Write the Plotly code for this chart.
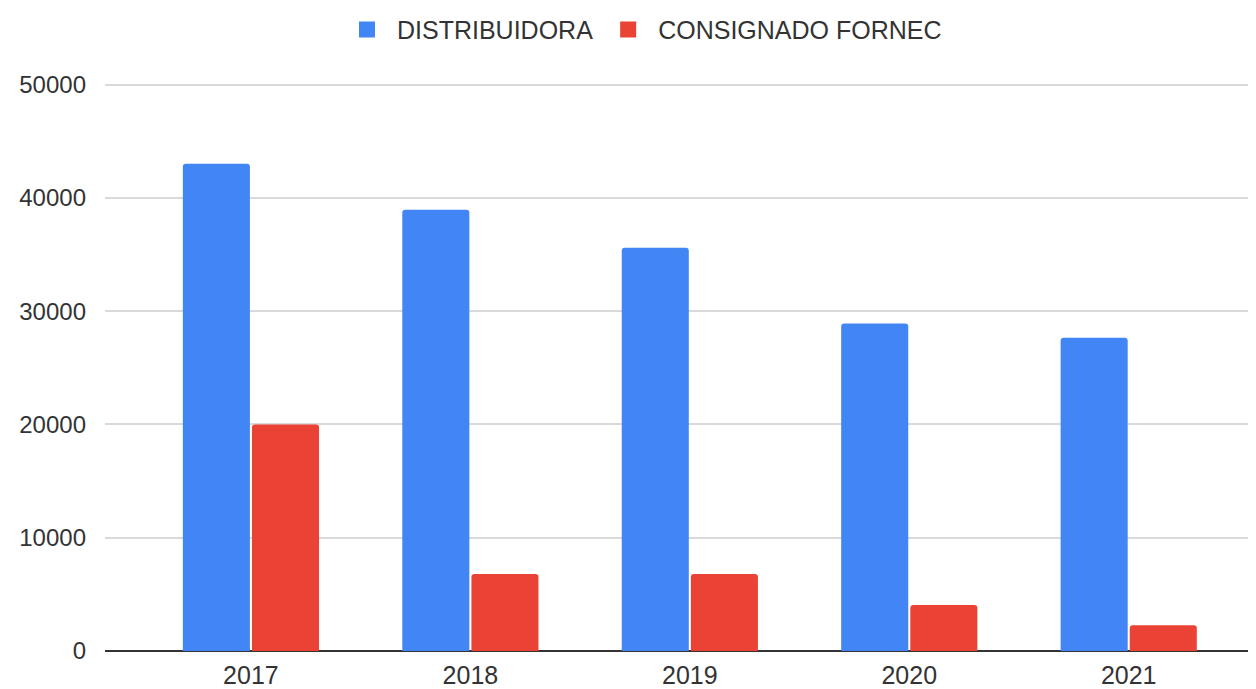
import plotly.graph_objects as go

years = ["2017", "2018", "2019", "2020", "2021"]
distribuidora = [43000, 38950, 35600, 28900, 27650]
consignado = [20000, 6800, 6800, 4060, 2280]
y_ticks = [0, 10000, 20000, 30000, 40000, 50000]

BLUE = "#4285F4"
RED = "#EA4335"

fig = go.Figure()
fig.add_trace(go.Bar(x=years, y=distribuidora, name="DISTRIBUIDORA", showlegend=False,
                     marker=dict(color=BLUE, line=dict(width=0))))
fig.add_trace(go.Bar(x=years, y=consignado, name="CONSIGNADO FORNEC", showlegend=False,
                     marker=dict(color=RED, line=dict(width=0))))
# legend entries with larger square symbols
for name, col in [("DISTRIBUIDORA", BLUE), ("CONSIGNADO FORNEC", RED)]:
    fig.add_trace(go.Scatter(x=[None], y=[None], mode="markers", name=name,
                             marker=dict(symbol="square", size=20, color=col)))

fig.update_layout(
    width=1248, height=681,
    margin=dict(l=97, r=0, t=72, b=38),
    plot_bgcolor="white", paper_bgcolor="white",
    barmode="group", bargap=0.37, bargroupgap=0.03,
    barcornerradius=3,
    font=dict(family="Liberation Sans, Arial, sans-serif", size=25, color="#333"),
    legend=dict(orientation="h", xref="container", yref="container",
                x=0.508, xanchor="center", y=0.968, yanchor="middle",
                font=dict(size=25, color="#333"), itemsizing="trace", itemwidth=50,
                tracegroupgap=10),
    xaxis=dict(type="category", range=[-0.665, 4.58], showgrid=False,
               ticks="", tickfont=dict(size=25, color="#333"), showline=False,
               ticklabelstandoff=7),
    yaxis=dict(range=[0, 50400], tickvals=y_ticks, ticktext=[str(v) for v in y_ticks],
               showgrid=True, gridcolor="#D9D9D9", gridwidth=1.5,
               zeroline=True, zerolinecolor="#333", zerolinewidth=2,
               tickfont=dict(size=24, color="#333"), ticklabelstandoff=18),
)
fig.write_html("out.html")
